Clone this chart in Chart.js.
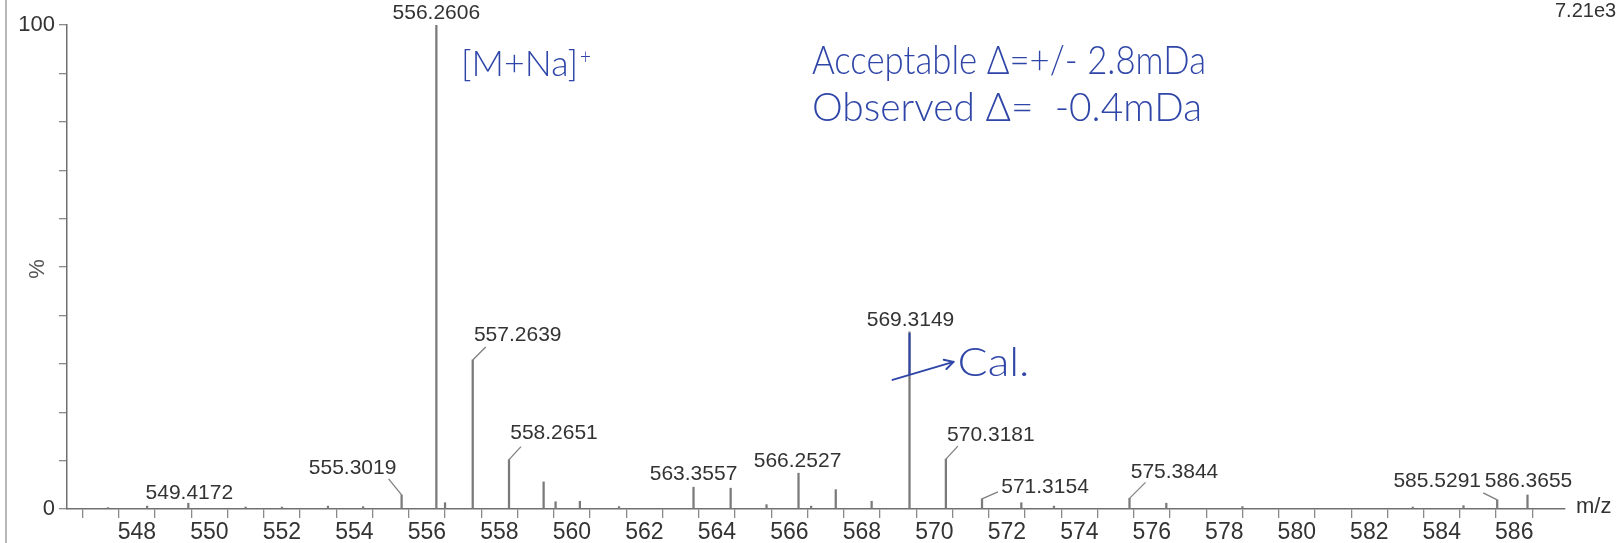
<!DOCTYPE html>
<html><head><meta charset="utf-8">
<script src="https://cdn.jsdelivr.net/npm/chart.js@4.4.1/dist/chart.umd.min.js"></script>
<style>
html,body{margin:0;padding:0;background:#fff;overflow:hidden}
#wrap{position:relative;width:1617px;height:543px}
#edge{position:absolute;left:5px;top:0;width:2px;height:543px;background:#b8b8b8}
canvas{position:absolute;left:0;top:0}
</style></head><body>
<div id="wrap"><canvas id="c" width="1617" height="543"></canvas><div id="edge"></div></div>
<script>
// ---- data ----
const labeledMz  = [549.4172, 555.3019, 556.2606, 557.2639, 558.2651, 563.3557, 566.2527, 569.3149, 570.3181, 571.3154, 575.3844, 585.5291, 586.3655];
const labeledInt = [1.2, 2.9, 100, 30.8, 10.2, 4.5, 7.4, 36.6, 10.3, 2.1, 2.2, 1.9, 2.9];
const otherMz  = [547.2, 548.28, 551.0, 552.0, 553.27, 554.24, 556.5, 559.22, 559.55, 560.22, 561.3, 564.38, 565.37, 566.6, 567.28, 568.27, 572.4, 573.3, 576.4, 578.5, 583.2, 584.6];
const otherInt = [0.3, 0.6, 0.4, 0.4, 0.6, 0.5, 1.3, 5.6, 1.5, 1.6, 0.5, 4.3, 0.9, 0.6, 4.0, 1.6, 1.3, 0.6, 1.2, 0.5, 0.4, 0.7];
const xTickLabels = [548,550,552,554,556,558,560,562,564,566,568,570,572,574,576,578,580,582,584,586];
const yTickLabels = [0, 100];
const xRange = [546.07, 587.4];
const maxCounts = '7.21e3';

// ---- label placement (style, not data): [dx, dy, leaderDx, leaderDy] relative to peak top ----
const labelOffsets = [
  [1,-10], [-49,-27,-13,-16], [0,-12], [45,-25,13,-13], [45,-26,12,-13],
  [0,-13], [-1,-12], [1,-12], [45,-24,12,-13], [63,-12,16,-7],
  [45,-26,16,-16], [-60,-19,-14,-7], [1,-14]
];

const peaks = labeledMz.map((m,i)=>({x:m,y:labeledInt[i]}))
  .concat(otherMz.map((m,i)=>({x:m,y:otherInt[i]})));

const FONT = '"Liberation Sans", Arial, sans-serif';
const HAND = '#2f46a8';
const HFAM = 'Lato, Roboto, "Open Sans", sans-serif';

function fitText(ctx, txt, x0, x1, base, font){
  ctx.font = font;
  const w = ctx.measureText(txt).width;
  ctx.save();
  ctx.translate(x0, base);
  ctx.scale((x1-x0)/w, 1);
  ctx.textAlign='left'; ctx.textBaseline='alphabetic';
  ctx.fillText(txt,0,0);
  ctx.restore();
}

const annot = {
  id:'annot',
  afterDraw(chart){
    const {ctx, scales:{x,y}} = chart;
    ctx.save();
    // peak labels with leaders
    ctx.font = '21px '+FONT;
    ctx.fillStyle = '#333'; ctx.textAlign='center'; ctx.textBaseline='middle';
    ctx.strokeStyle = '#808080'; ctx.lineWidth = 1.3;
    labeledMz.forEach((m,i)=>{
      const px = x.getPixelForValue(m), py = y.getPixelForValue(labeledInt[i]);
      const o = labelOffsets[i];
      if (o.length>2){ ctx.beginPath(); ctx.moveTo(px,py); ctx.lineTo(px+o[2],py+o[3]); ctx.stroke(); }
      ctx.fillText(m.toFixed(4), px+o[0], py+o[1]);
    });
    // axis titles
    ctx.fillStyle='#555';
    ctx.font = '22px '+FONT;
    ctx.save(); ctx.translate(38, y.getPixelForValue(50)+2); ctx.rotate(-Math.PI/2);
    ctx.textAlign='center'; ctx.textBaseline='middle'; ctx.fillText('%',0,0); ctx.restore();
    ctx.fillStyle='#333';
    ctx.textAlign='left'; ctx.textBaseline='middle';
    ctx.fillText('m/z', x.right+11, y.bottom-2);
    ctx.font = '20px '+FONT;
    ctx.fillText(maxCounts, 1555, 11);
    // handwritten notes
    ctx.fillStyle = HAND; ctx.strokeStyle = HAND;
    fitText(ctx, 'Acceptable Δ=+/- 2.8mDa', 812, 1206, 74, '300 40px '+HFAM);
    fitText(ctx, 'Observed Δ=  -0.4mDa', 812, 1202, 121, '300 40px '+HFAM);
    fitText(ctx, '[M+Na]', 461, 578, 76, '300 36px '+HFAM);
    fitText(ctx, '+', 580, 591, 64, '300 22px '+HFAM);
    // "Cal." note tied to the calibrant peak
    const cx = x.getPixelForValue(569.3149), cy = y.getPixelForValue(36.6);
    ctx.lineWidth = 2; ctx.lineCap='round';
    ctx.beginPath(); ctx.moveTo(cx, cy+2); ctx.lineTo(cx, cy+42); ctx.stroke();
    const ax0 = cx-17, ay0 = cy+48, ax1 = cx+44, ay1 = cy+30;
    ctx.beginPath(); ctx.moveTo(ax0,ay0); ctx.lineTo(ax1,ay1); ctx.stroke();
    const ang = Math.atan2(ay1-ay0, ax1-ax0);
    ctx.beginPath();
    ctx.moveTo(ax1,ay1); ctx.lineTo(ax1-10*Math.cos(ang-0.5), ay1-10*Math.sin(ang-0.5));
    ctx.moveTo(ax1,ay1); ctx.lineTo(ax1-10*Math.cos(ang+0.5), ay1-10*Math.sin(ang+0.5));
    ctx.stroke();
    fitText(ctx, 'Cal.', cx+48, cx+120, cy+44, '300 40px '+HFAM);
    ctx.restore();
  }
};

new Chart(document.getElementById('c'), {
  type:'bar',
  data:{ datasets:[{ data: peaks, backgroundColor:'#7a7a7a', borderWidth:0, barThickness:1.6, grouped:false }] },
  options:{
    responsive:false, animation:false, devicePixelRatio:1,
    layout:{ padding:{ top:25, right:52, bottom:0, left:0 } },
    plugins:{ legend:{display:false}, tooltip:{enabled:false} },
    scales:{
      x:{
        type:'linear', min:xRange[0], max:xRange[1], offset:false,
        grid:{ display:true, drawOnChartArea:false, drawTicks:true, tickLength:9, color:'#8a8a8a', lineWidth:1.3 },
        border:{ display:true, color:'#707070', width:1.5 },
        ticks:{ stepSize:1, autoSkip:false, includeBounds:false, maxRotation:0, padding:1, color:'#333',
          font:{ size:23, family:FONT },
          callback:(v)=> xTickLabels.includes(Math.round(v)) && Math.abs(v-Math.round(v))<1e-6 ? String(Math.round(v)) : '' },
        afterFit:(s)=>{ s.height = 34; }
      },
      y:{
        min:0, max:100,
        grid:{ display:true, drawOnChartArea:false, drawTicks:true, tickLength:8, color:'#8a8a8a', lineWidth:1.3 },
        border:{ display:true, color:'#707070', width:1.5 },
        ticks:{ stepSize:10, autoSkip:false, padding:4, color:'#333', font:{ size:22, family:FONT },
          callback:(v)=> yTickLabels.includes(v) ? String(v) : '' },
        afterFit:(s)=>{ s.width = 67; }
      }
    }
  },
  plugins:[annot]
});
</script>
</body></html>
